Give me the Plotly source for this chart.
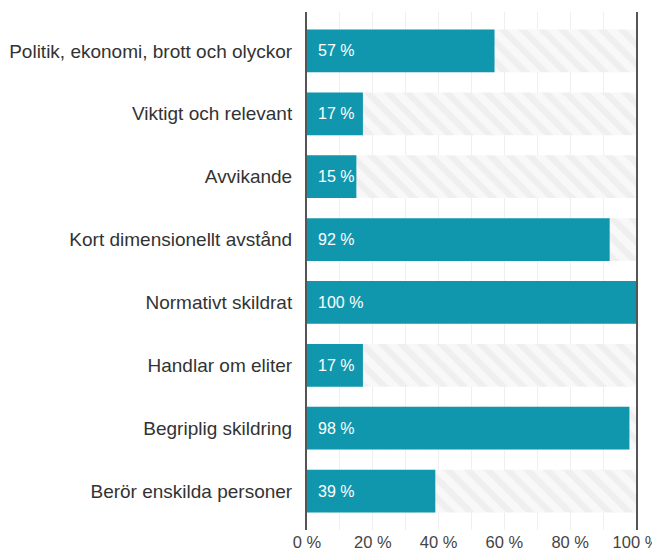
import plotly.graph_objects as go

categories = [
    "Politik, ekonomi, brott och olyckor",
    "Viktigt och relevant",
    "Avvikande",
    "Kort dimensionellt avstånd",
    "Normativt skildrat",
    "Handlar om eliter",
    "Begriplig skildring",
    "Berör enskilda personer",
]
values = [57, 17, 15, 92, 100, 17, 98, 39]
full = [100] * len(categories)
tick_vals = [0, 20, 40, 60, 80, 100]
tick_text = ["0 %", "20 %", "40 %", "60 %", "80 %", "100 %"]

teal = "#1197ad"
font_family = "Liberation Sans, Arial, sans-serif"

fig = go.Figure()
fig.add_trace(go.Bar(
    y=categories, x=full, orientation="h", width=0.68,
    marker=dict(color="#f6f6f6", line=dict(width=0),
                pattern=dict(shape="\\", fgcolor="#e6e6e6", bgcolor="#f8f8f8",
                             size=14, solidity=0.45)),
    hoverinfo="skip", showlegend=False,
))
fig.add_trace(go.Bar(
    y=categories, x=values, orientation="h", width=0.68,
    marker=dict(color=teal, line=dict(width=0)),
    showlegend=False,
))

for c, v in zip(categories, values):
    fig.add_annotation(x=0, y=c, text=f"{v} %", xanchor="left", xshift=9,
                       showarrow=False,
                       font=dict(color="white", size=16, family=font_family))

fig.update_layout(
    width=660, height=551,
    margin=dict(l=299, r=32, t=4, b=29),
    barmode="overlay",
    plot_bgcolor="white", paper_bgcolor="white",
    font=dict(family=font_family, color="#333333"),
)
fig.update_xaxes(
    range=[0, 100], tickvals=tick_vals, ticktext=tick_text,
    showgrid=True, gridcolor="#efefef", gridwidth=1,
    tickmode="array",
    minor=dict(showgrid=True, dtick=10, gridcolor="#efefef"),
    zeroline=False, showline=False, automargin=False,
    tickfont=dict(size=16.5, color="#444444"),
    fixedrange=True,
)
fig.update_yaxes(
    categoryorder="array", categoryarray=categories[::-1],
    range=[-0.62, 7.62], automargin=False,
    showgrid=False, zeroline=False,
    showline=True, linecolor="#555555", linewidth=2, mirror=True,
    ticks="", ticklabelstandoff=9,
    tickfont=dict(size=19, color="#333333"),
)

fig.write_html("out.html")
